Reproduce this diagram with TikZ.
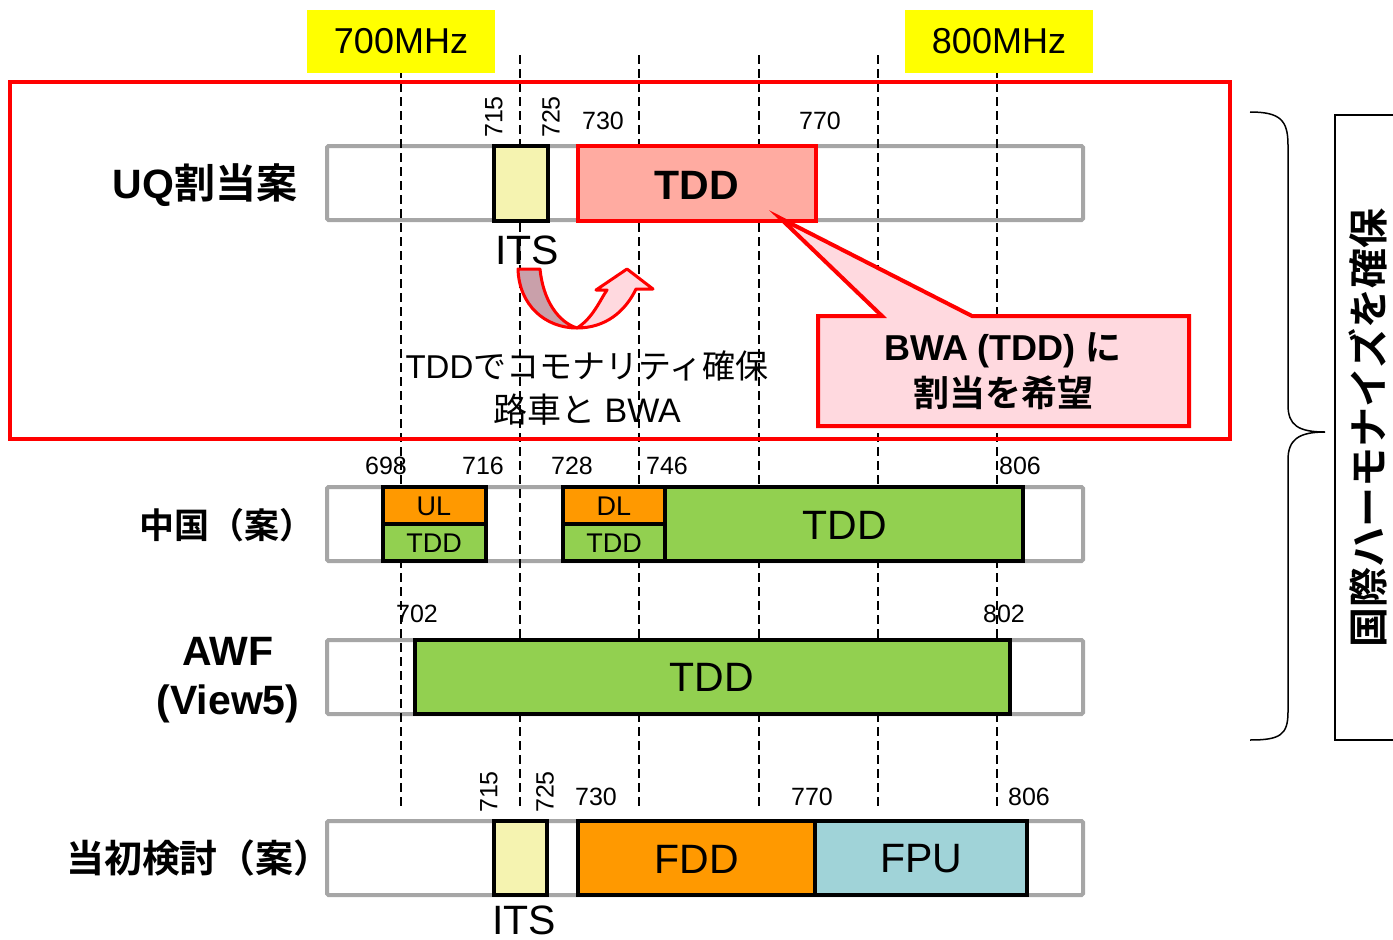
\documentclass[tikz,border=0pt]{standalone}
\usepackage{fontspec}
\setmainfont{Liberation Sans}
\newfontfamily\jp{Noto Sans CJK JP}[BoldFont={Noto Sans CJK JP Bold}]
\newcommand{\fsz}[1]{\fontsize{#1}{#1}\selectfont}
\definecolor{barGray}{HTML}{A6A6A6}
\definecolor{itsYellow}{HTML}{F5F3B0}
\definecolor{tddSalmon}{HTML}{FFABA1}
\definecolor{calloutPink}{HTML}{FFD9DF}
\definecolor{arrDark}{HTML}{C9A0AA}
\definecolor{bandOrange}{HTML}{FF9900}
\definecolor{bandGreen}{HTML}{92D050}
\definecolor{fpuBlue}{HTML}{A0D3D8}
\definecolor{pureRed}{HTML}{FF0000}
\definecolor{pureYellow}{HTML}{FFFF00}
\begin{document}
\begin{tikzpicture}[x=1pt,y=-1pt,
  bar/.style={draw=barGray,fill=white,line width=4pt,rounded corners=1.5pt},
  band/.style={draw=black,line width=4.5pt,line join=miter},
  guide/.style={draw=black,line width=2.2pt,dash pattern=on 9pt off 5pt},
  num/.style={inner sep=0pt,font=\fsz{25}},
  big/.style={inner sep=0pt,font=\fsz{41}},
  rowlab/.style={inner sep=0pt,font=\bfseries\fsz{41}},
  txt/.style={inner sep=0pt}]
\useasboundingbox (0,0) rectangle (1393,940);

% gray bars
\draw[bar] (327,146) rectangle (1083,220) coordinate (bar1);
\draw[bar] (327,487) rectangle (1083,561) coordinate (bar2);
\draw[bar] (327,640) rectangle (1083,714) coordinate (bar3);
\draw[bar] (327,821) rectangle (1083,895) coordinate (bar4);

% dashed guides
\foreach \gx/\gy in {401/55,520/55,639/55,759/55,878/55,997/55}
  \draw[guide] (\gx,\gy) -- (\gx,810);

% yellow band labels
\node[fill=pureYellow,minimum width=188pt,minimum height=63pt,inner sep=0pt,font=\fsz{36}] (m700) at (401,41.5) {700MHz};
\node[fill=pureYellow,minimum width=188pt,minimum height=63pt,inner sep=0pt,font=\fsz{36}] (m800) at (999,41.5) {800MHz};

% big red frame
\draw[pureRed,line width=4pt] (10,82) rectangle (1230,439);

% ---- row 1 : UQ
\node[rowlab] (lab1) at (205,185) {UQ{\jp 割当案}};
\draw[band,fill=itsYellow] (494,146) rectangle (548,221);
\draw[line width=3.5pt,draw=pureRed,fill=tddSalmon] (578,146) rectangle (816,221);
\node[txt,font=\bfseries\fsz{41}] (tdd1) at (697,185) {TDD};
\node[num,rotate=90] (n715a) at (494,117) {715};
\node[num,rotate=90] (n725a) at (551,117) {725};
\node[num] (n730a) at (603,121) {730};
\node[num] (n770a) at (820,121) {770};
\node[big] (itslab1) at (527,250) {ITS};

% curved arrow
\filldraw[draw=pureRed,fill=arrDark,line width=3pt,line join=round]
  (518,269) -- (540,269) .. controls (543,300) and (558,322) .. (577,328)
  .. controls (545,328) and (519,305) .. (518,269) -- cycle;
\filldraw[draw=pureRed,fill=calloutPink,line width=3pt,line join=round]
  (577,328) .. controls (593,318) and (600,300) .. (607,290)
  -- (596,290) -- (627,269) -- (653,289) -- (636,289)
  .. controls (625,312) and (605,328) .. (577,328) -- cycle;

\node[txt,font=\fsz{33}] (comm) at (587,366) {TDD{\jp でコモナリティ確保}};
\node[txt,font=\fsz{34}] (road) at (587,410) {{\jp 路車と} BWA};

% callout
\filldraw[draw=pureRed,fill=calloutPink,line width=4pt,line join=miter]
  (818,316) -- (882,316) -- (780,218) -- (972,316) -- (1189,316) -- (1189,426) -- (818,426) -- cycle;
\node[txt,font=\bfseries\fsz{36}] (co1) at (1003,350) {BWA (TDD) {\jp に}};
\node[txt,font=\bfseries\jp\fsz{36}] (co2) at (1003,393) {割当を希望};

% ---- row 2 : China
\node[rowlab,font=\bfseries\jp\fsz{35}] (lab2) at (227,525) {中国（案）};
\draw[band,fill=bandOrange] (383,487) rectangle (486,524);
\draw[band,fill=bandGreen] (383,524) rectangle (486,561);
\node[txt,font=\fsz{27}] (ul) at (434,506) {UL};
\node[txt,font=\fsz{27}] (ult) at (434,543) {TDD};
\draw[band,fill=bandOrange] (563,487) rectangle (665,524);
\draw[band,fill=bandGreen] (563,524) rectangle (665,561);
\node[txt,font=\fsz{27}] (dl) at (614,506) {DL};
\node[txt,font=\fsz{27}] (dlt) at (614,543) {TDD};
\draw[band,fill=bandGreen] (665,487) rectangle (1023,561);
\node[big] (tdd2) at (845,525) {TDD};
\node[num] (n698) at (386,466) {698};
\node[num] (n716) at (483,466) {716};
\node[num] (n728) at (572,466) {728};
\node[num] (n746) at (667,466) {746};
\node[num] (n806a) at (1020,466) {806};

% ---- row 3 : AWF
\node[rowlab] (lab3a) at (228,651) {AWF};
\node[rowlab] (lab3b) at (228,704) {(View5)};
\draw[band,fill=bandGreen] (415,640) rectangle (1010,714);
\node[big] (tdd3) at (712,677) {TDD};
\node[num] (n702) at (417,614) {702};
\node[num] (n802) at (1004,614) {802};

% ---- row 4 : initial
\node[rowlab,font=\bfseries\jp\fsz{38}] (lab4) at (199,858) {当初検討（案）};
\draw[band,fill=itsYellow] (494,821) rectangle (547,895);
\draw[band,fill=bandOrange] (578,821) rectangle (815,895);
\draw[band,fill=fpuBlue] (815,821) rectangle (1027,895);
\node[big] (fdd) at (697,859) {FDD};
\node[big] (fpu) at (921,859) {FPU};
\node[big] (itslab4) at (524,920) {ITS};
\node[num,rotate=90] (n715b) at (489,792) {715};
\node[num,rotate=90] (n725b) at (545,792) {725};
\node[num] (n730b) at (596,797) {730};
\node[num] (n770b) at (812,797) {770};
\node[num] (n806b) at (1029,797) {806};

% brace
\draw[line width=1.5pt]
  (1250,112) .. controls (1280,112) and (1288,120) .. (1288,145) -- (1288,405)
  .. controls (1288,425) and (1298,432) .. (1325,432)
  .. controls (1298,432) and (1288,440) .. (1288,460) -- (1288,712)
  .. controls (1288,735) and (1280,740) .. (1250,740);

% right box with vertical text
\draw[line width=1.5pt] (1400,115) -- (1335,115) -- (1335,740) -- (1400,740);
\node[txt,rotate=90,font=\bfseries\jp\fsz{40}] (harm) at (1368,428) {国際ハーモナイズを確保};
\end{tikzpicture}
\end{document}
